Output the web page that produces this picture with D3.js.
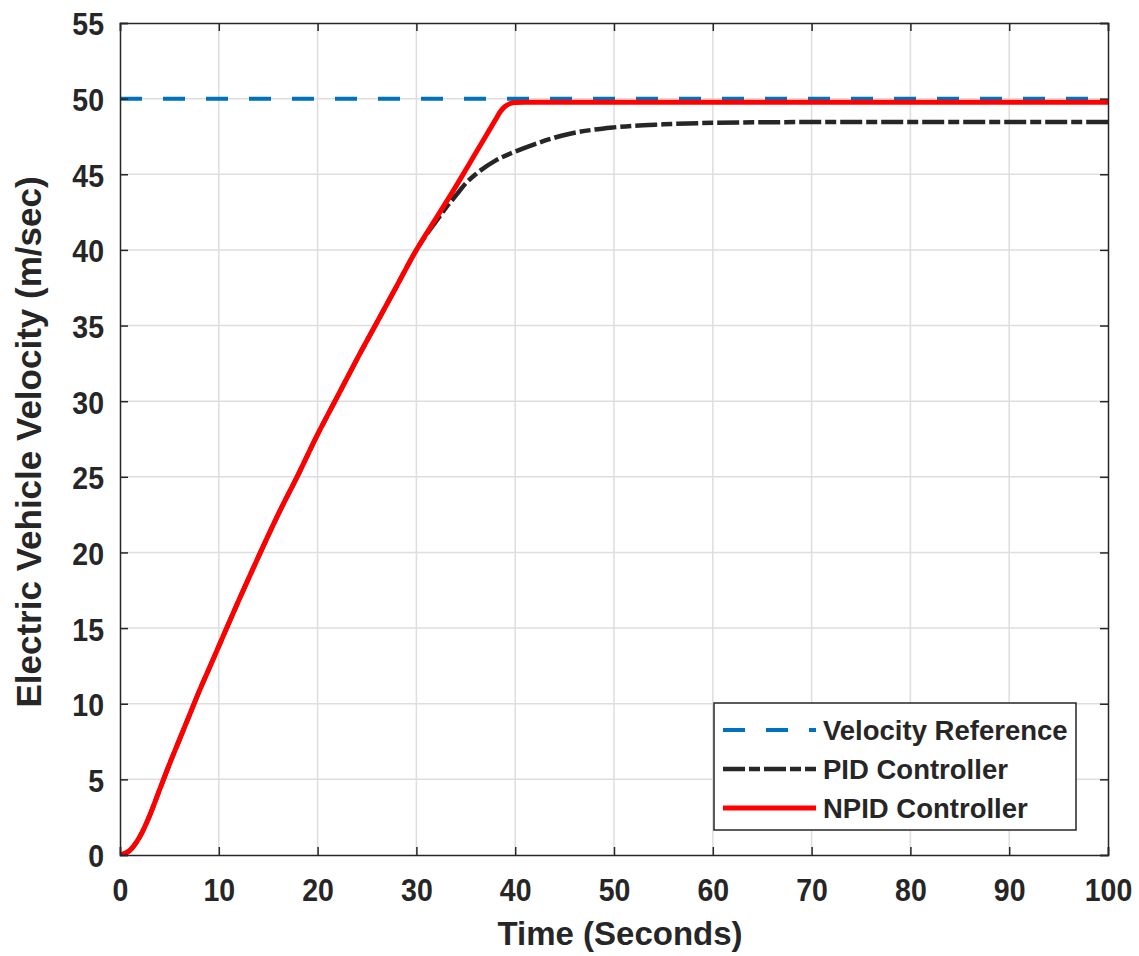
<!DOCTYPE html>
<html>
<head>
<meta charset="utf-8">
<script src="https://cdn.jsdelivr.net/npm/d3@7"></script>
<style>
  body { margin: 0; background: #fff; }
  text { font-family: "Liberation Sans", Arial, sans-serif; font-weight: bold; fill: #262626; }
</style>
</head>
<body>
<div id="container"></div>
<script>
const width = 1139;
const height = 956;
const plotLeft = 120, plotRight = 1108, plotTop = 23, plotBottom = 855;

const xTicks = [0, 10, 20, 30, 40, 50, 60, 70, 80, 90, 100];
const yTicks = [0, 5, 10, 15, 20, 25, 30, 35, 40, 45, 50, 55];

// velocity reference
const refTime = [0, 100];
const refVel = [50, 50];

// NPID controller
const npidTime = [0, 1, 2, 3, 4, 5, 6, 7, 8, 9, 10, 12, 14, 16, 18, 20, 22, 24, 26, 28, 30, 32, 34, 35, 36, 37, 38, 38.5, 39, 39.5, 40, 41, 50, 70, 100];
const npidVel = [0, 0.3, 1.2, 2.6, 4.3, 6.0, 7.6, 9.2, 10.8, 12.3, 13.8, 16.8, 19.7, 22.5, 25.1, 27.8, 30.3, 32.8, 35.2, 37.6, 40.0, 42.1, 44.2, 45.3, 46.4, 47.5, 48.6, 49.15, 49.5, 49.68, 49.74, 49.76, 49.76, 49.76, 49.76];

// PID controller
const pidTime = [0, 1, 2, 3, 4, 5, 6, 7, 8, 9, 10, 12, 14, 16, 18, 20, 22, 24, 26, 28, 30, 31, 32, 33, 34, 35, 36, 38, 40, 42, 45, 50, 55, 60, 70, 80, 100];
const pidVel = [0, 0.3, 1.2, 2.6, 4.3, 6.0, 7.6, 9.2, 10.8, 12.3, 13.8, 16.8, 19.7, 22.5, 25.1, 27.8, 30.3, 32.8, 35.2, 37.6, 40.0, 41.0, 41.9, 42.8, 43.6, 44.4, 45.0, 45.9, 46.5, 47.0, 47.6, 48.1, 48.3, 48.4, 48.45, 48.45, 48.45];

const series = [
    {name: 'Velocity Reference', t: refTime, v: refVel, color: '#0072bd', width: 4, dash: '22,21'},
    {name: 'PID Controller', t: pidTime, v: pidVel, color: '#262626', width: 4.5, dash: '22,4,11,4'},
    {name: 'NPID Controller', t: npidTime, v: npidVel, color: '#ff0000', width: 5, dash: null}
];

const svg = d3.select('#container')
    .append('svg')
    .attr('width', width)
    .attr('height', height);

const xScale = d3.scaleLinear().domain([0, 100]).range([plotLeft, plotRight]);
const yScale = d3.scaleLinear().domain([0, 55]).range([plotBottom, plotTop]);

// grid
svg.append('g')
    .selectAll('line')
    .data(xTicks.slice(1, -1))
    .enter()
    .append('line')
    .attr('x1', d => xScale(d)).attr('x2', d => xScale(d))
    .attr('y1', plotTop).attr('y2', plotBottom)
    .attr('stroke', '#dedede').attr('stroke-width', 1.5);
svg.append('g')
    .selectAll('line')
    .data(yTicks.slice(1, -1))
    .enter()
    .append('line')
    .attr('y1', d => yScale(d)).attr('y2', d => yScale(d))
    .attr('x1', plotLeft).attr('x2', plotRight)
    .attr('stroke', '#dedede').attr('stroke-width', 1.5);

// lines
svg.append('clipPath').attr('id', 'clip')
    .append('rect')
    .attr('x', plotLeft).attr('y', plotTop)
    .attr('width', plotRight - plotLeft).attr('height', plotBottom - plotTop);

series.forEach(s => {
    const pts = s.t.map((t, i) => [t, s.v[i]]);
    const line = d3.line()
        .x(d => xScale(d[0]))
        .y(d => yScale(d[1]))
        .curve(d3.curveMonotoneX);
    svg.append('path')
        .datum(pts)
        .attr('clip-path', 'url(#clip)')
        .attr('d', line)
        .attr('fill', 'none')
        .attr('stroke', s.color)
        .attr('stroke-width', s.width)
        .attr('stroke-linejoin', 'round')
        .attr('stroke-dasharray', s.dash);
});

// axes, ticks inward on all sides
const axisColor = '#262626';
const tickLen = 8;
const xAxis = d3.axisBottom(xScale).tickValues(xTicks).tickSize(-tickLen).tickPadding(14);
const yAxis = d3.axisLeft(yScale).tickValues(yTicks).tickSize(-tickLen).tickPadding(16);

const gx = svg.append('g')
    .attr('transform', 'translate(0,' + plotBottom + ')')
    .call(xAxis);
const gy = svg.append('g')
    .attr('transform', 'translate(' + plotLeft + ',0)')
    .call(yAxis);
svg.append('g')
    .attr('transform', 'translate(0,' + plotTop + ')')
    .call(d3.axisTop(xScale).tickValues(xTicks).tickSize(-tickLen).tickFormat(''));
svg.append('g')
    .attr('transform', 'translate(' + plotRight + ',0)')
    .call(d3.axisRight(yScale).tickValues(yTicks).tickSize(-tickLen).tickFormat(''));

svg.selectAll('.domain').attr('stroke', axisColor).attr('stroke-width', 1.5);
svg.selectAll('.tick line').attr('stroke', axisColor).attr('stroke-width', 1.5);
svg.selectAll('.tick text').style('font-size', '28.5px').style('fill', axisColor);
gx.selectAll('.tick text').attr('y', 42).attr('dy', 0)
    .attr('transform', 'scale(1,1.1)');
gy.selectAll('.tick text').attr('dy', '0.38em')
    .attr('transform', 'scale(1,1.1)');

// axis titles
svg.append('text')
    .attr('x', (plotLeft + plotRight) / 2 + 6)
    .attr('y', 945)
    .attr('text-anchor', 'middle')
    .style('font-size', '33px')
    .text('Time (Seconds)');
svg.append('text')
    .attr('transform', 'translate(41,' + ((plotTop + plotBottom) / 2 + 3) + ') rotate(-90)')
    .attr('text-anchor', 'middle')
    .style('font-size', '35px')
    .text('Electric Vehicle Velocity (m/sec)');

// legend
const legend = svg.append('g').attr('id', 'legend');
legend.append('rect')
    .attr('x', 714).attr('y', 703)
    .attr('width', 362).attr('height', 127)
    .attr('fill', '#fff')
    .attr('stroke', axisColor)
    .attr('stroke-width', 1.5);
series.forEach((s, i) => {
    const y = 730 + i * 39;
    legend.append('line')
        .attr('x1', 723).attr('x2', 816)
        .attr('y1', y).attr('y2', y)
        .attr('stroke', s.color)
        .attr('stroke-width', s.width)
        .attr('stroke-dasharray', s.dash);
    legend.append('text')
        .attr('x', 823).attr('y', y)
        .attr('dy', '0.37em')
        .style('font-size', '27.5px')
        .text(s.name);
});
</script>
</body>
</html>
